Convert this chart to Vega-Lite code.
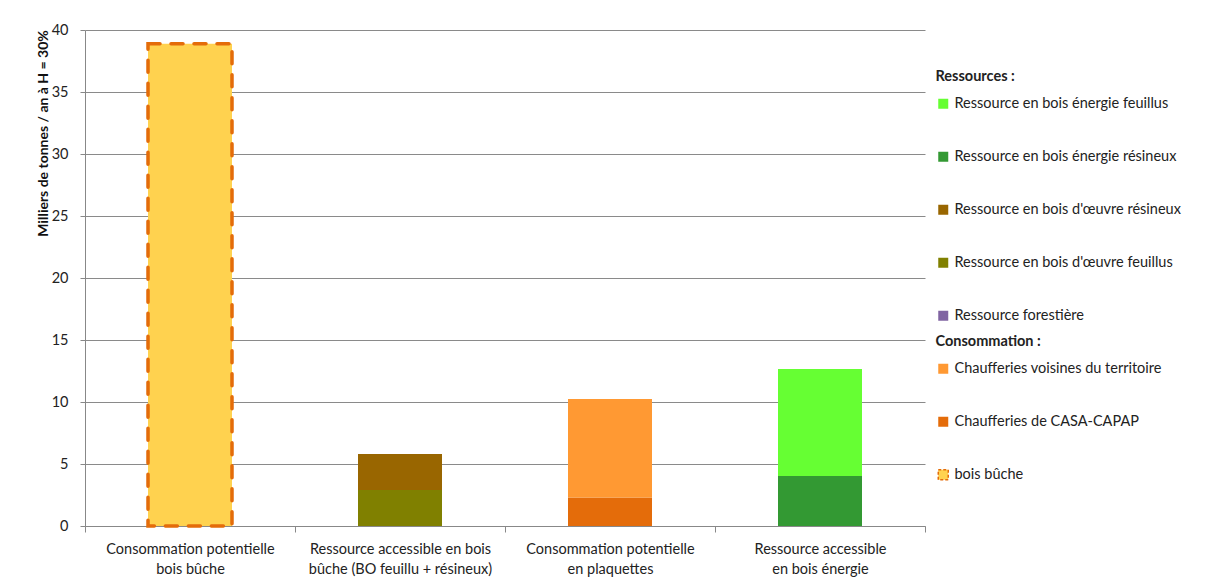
{
  "$schema": "https://vega.github.io/schema/vega-lite/v6.json",
  "autosize": "none",
  "width": 840,
  "height": 496,
  "padding": {"left": 85, "top": 30, "right": 282, "bottom": 55},
  "background": "white",
  "config": {
    "font": "Lato",
    "view": {"stroke": null},
    "axis": {"labelFont": "Lato", "titleFont": "Lato", "labelColor": "#222", "titleColor": "#111"}
  },
  "data": {
    "values": [
      {"categorie": "Consommation potentielle bois bûche", "type": "bois bûche", "valeur": 38.9, "ordre": 1},
      {"categorie": "Ressource accessible en bois bûche (BO feuillu + résineux)", "type": "Ressource en bois d'œuvre feuillus", "valeur": 2.9, "ordre": 1},
      {"categorie": "Ressource accessible en bois bûche (BO feuillu + résineux)", "type": "Ressource en bois d'œuvre résineux", "valeur": 2.9, "ordre": 2},
      {"categorie": "Consommation potentielle en plaquettes", "type": "Chaufferies de CASA-CAPAP", "valeur": 2.3, "ordre": 1},
      {"categorie": "Consommation potentielle en plaquettes", "type": "Chaufferies voisines du territoire", "valeur": 7.95, "ordre": 2},
      {"categorie": "Ressource accessible en bois énergie", "type": "Ressource en bois énergie résineux", "valeur": 4.03, "ordre": 1},
      {"categorie": "Ressource accessible en bois énergie", "type": "Ressource en bois énergie feuillus", "valeur": 8.63, "ordre": 2}
    ]
  },
  "mark": {"type": "bar", "width": {"band": 0.4}, "strokeCap": "round"},
  "encoding": {
    "x": {
      "field": "categorie",
      "type": "nominal",
      "sort": null,
      "scale": {"paddingInner": 0, "paddingOuter": 0},
      "axis": {
        "title": null,
        "labelAngle": 0,
        "labelFontSize": 14.5,
        "labelPadding": 10,
        "labelLineHeight": 20,
        "labelLimit": 300,
        "labelBaseline": "top",
        "labelExpr": "{'Consommation potentielle bois bûche': ['Consommation  potentielle', 'bois bûche'], 'Ressource accessible en bois bûche (BO feuillu + résineux)': ['Ressource accessible en bois', 'bûche (BO feuillu + résineux)'], 'Consommation potentielle en plaquettes': ['Consommation  potentielle', 'en plaquettes'], 'Ressource accessible en bois énergie': ['Ressource accessible', 'en bois énergie']}[datum.label]",
        "tickBand": "extent",
        "tickSize": 6,
        "tickColor": "#888",
        "domainColor": "#888",
        "grid": false
      }
    },
    "y": {
      "field": "valeur",
      "type": "quantitative",
      "stack": "zero",
      "scale": {"domain": [0, 40], "nice": false},
      "axis": {
        "title": "Milliers de tonnes / an à H = 30%",
        "titleFontSize": 14,
        "titleFontWeight": "bold",
        "titleAngle": -90,
        "titleX": -42,
        "titleY": 103,
        "titleAlign": "center",
        "titleBaseline": "middle",
        "values": [0, 5, 10, 15, 20, 25, 30, 35, 40],
        "labelFontSize": 14.5,
        "labelPadding": 12,
        "tickSize": 5,
        "tickColor": "#888",
        "domainColor": "#888",
        "grid": true,
        "gridColor": "#8a8a8a",
        "gridWidth": 1
      }
    },
    "order": {"field": "ordre", "type": "quantitative"},
    "color": {
      "field": "type",
      "type": "nominal",
      "scale": {
        "domain": ["Ressources :", "Ressource en bois énergie feuillus", "_1", "Ressource en bois énergie résineux", "_2", "Ressource en bois d'œuvre résineux", "_3", "Ressource en bois d'œuvre feuillus", "_4", "Ressource forestière", "Consommation :", "Chaufferies voisines du territoire", "_5", "Chaufferies de CASA-CAPAP", "_6", "bois bûche"],
        "range": ["transparent", "#66FF33", "transparent", "#339933", "transparent", "#996600", "transparent", "#808000", "transparent", "#8064A2", "transparent", "#FF9933", "transparent", "#E46C0A", "transparent", "#FFD24F"]
      },
      "legend": {
        "title": null,
        "orient": "none",
        "legendX": 851,
        "legendY": 40,
        "padding": 0,
        "symbolType": "square",
        "symbolSize": 100,
        "labelFont": "Lato",
        "labelFontSize": 14.5,
        "labelColor": "#222",
        "labelLimit": 300,
        "rowPadding": 11.5,
        "labelExpr": "indexof(datum.label, '_') == 0 ? '' : datum.label",
        "labelFontWeight": {"expr": "datum.value == 'Ressources :' || datum.value == 'Consommation :' ? 'bold' : 'normal'"},
        "labelOffset": {"expr": "datum.value == 'Ressources :' || datum.value == 'Consommation :' ? -15 : 4"},
        "symbolStrokeColor": {"expr": "datum.value == 'bois bûche' ? '#E46C0A' : 'transparent'"},
        "symbolStrokeWidth": {"expr": "datum.value == 'bois bûche' ? 1.5 : 0"},
        "symbolDash": {"expr": "datum.value == 'bois bûche' ? [3, 2] : [1, 0]"}
      }
    },
    "stroke": {"condition": {"test": "datum.type == 'bois bûche'", "value": "#E46C0A"}, "value": "transparent"},
    "strokeWidth": {"condition": {"test": "datum.type == 'bois bûche'", "value": 3.5}, "value": 0},
    "strokeDash": {"condition": {"test": "datum.type == 'bois bûche'", "value": [12, 11]}, "value": [1, 0]}
  }
}
